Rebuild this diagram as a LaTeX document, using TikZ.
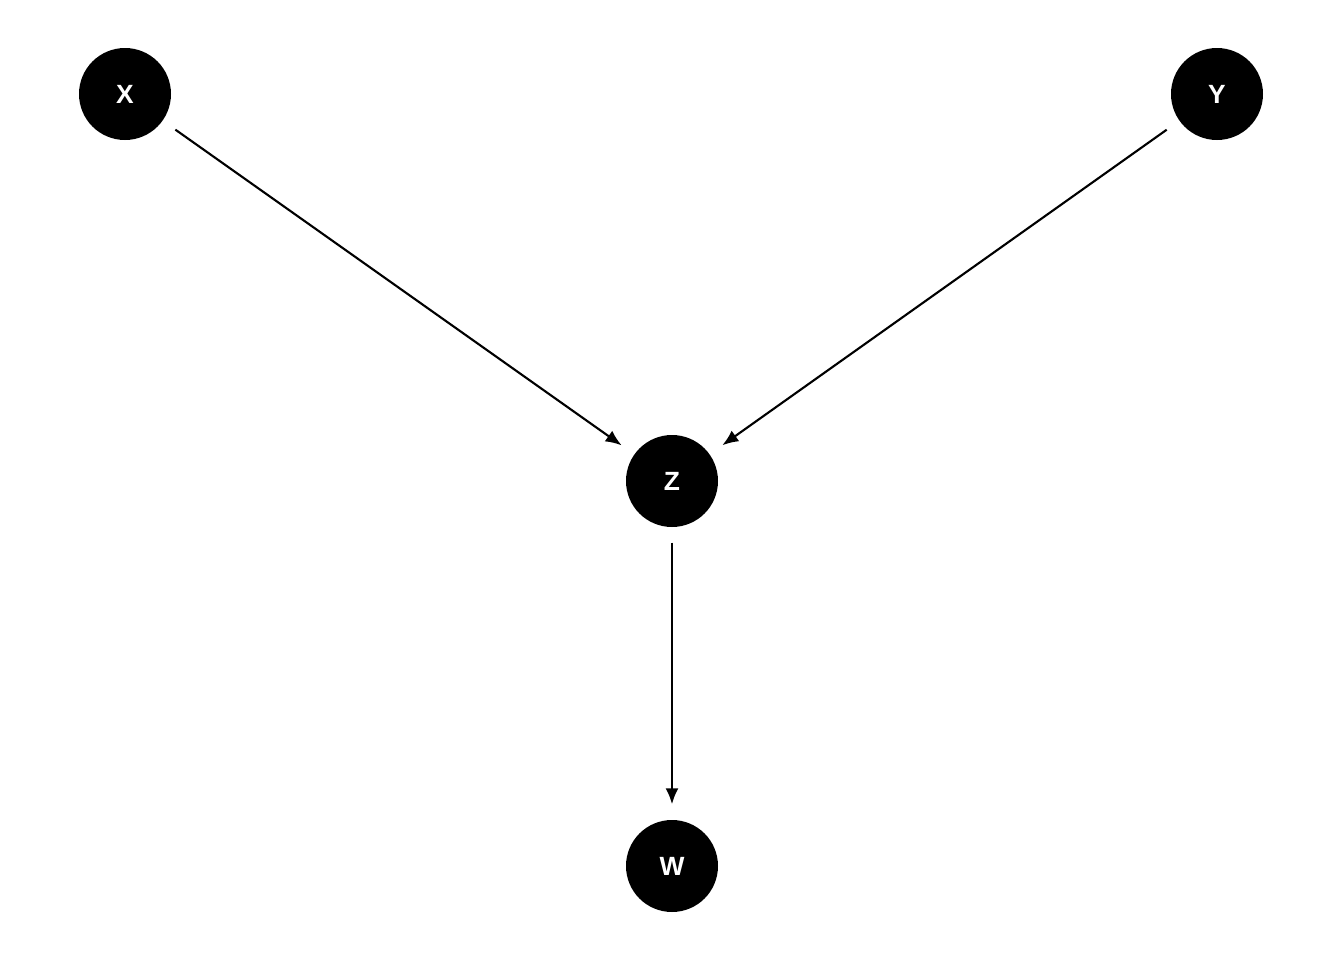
\documentclass[tikz,border=0pt]{standalone}
\usepackage{fontspec}
\setmainfont{Liberation Sans}
\usetikzlibrary{arrows.meta}
\tikzset{
  var/.style={circle,fill=black,minimum size=0.92cm,inner sep=0pt,
    text=white,font=\fontsize{7.5}{7.5}\selectfont\bfseries},
  link/.style={-{Latex[length=1.6mm,width=1.3mm]},line width=0.6pt,
    shorten <=0.15cm,shorten >=0.15cm}
}
\begin{document}
\begin{tikzpicture}
	\useasboundingbox (0,0) rectangle (13.44,9.6);
	\node[var] (x) at (1.25,8.66) {X};
	\node[var] (y) at (12.17,8.66) {Y};
	\node[var] (z) at (6.72,4.79) {Z};
	\node[var] (w) at (6.72,0.94) {W};
	\foreach \from/\to in {x/z,y/z,z/w}{
		\draw[link] (\from) -- (\to);
	};
\end{tikzpicture}
\end{document}
